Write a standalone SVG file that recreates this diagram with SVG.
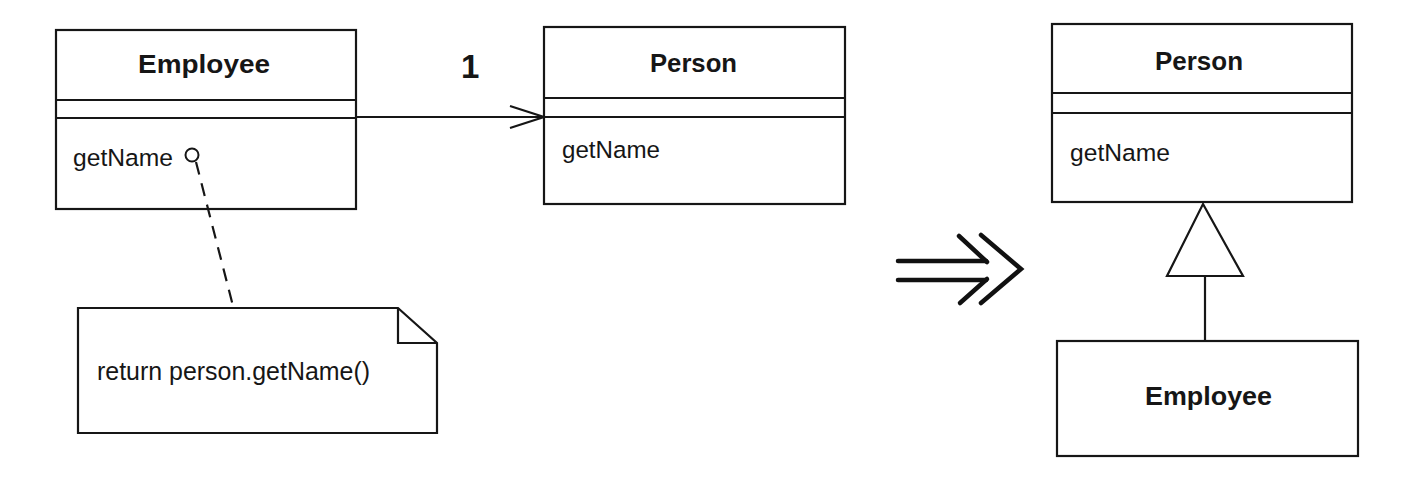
<svg xmlns="http://www.w3.org/2000/svg" width="1412" height="484" viewBox="0 0 1412 484">
  <style>
    .box { fill: #ffffff; stroke: #161616; stroke-width: 2.2; }
    .line { fill: none; stroke: #161616; stroke-width: 2.2; }
    .title { font-family: "Liberation Sans", Arial, sans-serif; font-weight: bold; font-size: 26px; fill: #161616; }
    .op { font-family: "Liberation Sans", Arial, sans-serif; font-size: 24.5px; fill: #161616; }
    .note { font-family: "Liberation Sans", Arial, sans-serif; font-size: 25px; fill: #161616; }
    .mult { font-family: "Liberation Sans", Arial, sans-serif; font-weight: bold; font-size: 33px; fill: #161616; }
  </style>
  <defs>
    <marker id="open-arrow" markerUnits="userSpaceOnUse" markerWidth="40" markerHeight="30" refX="36" refY="13" orient="auto">
      <path d="M2,2 L36,13 L2,24" fill="none" stroke="#161616" stroke-width="2.2"/>
    </marker>
  </defs>
  <rect width="1412" height="484" fill="#ffffff"/>

  <!-- before: Employee delegating to Person -->
  <g id="employee-left">
    <rect class="box" x="56" y="30" width="300" height="179"/>
    <line class="line" x1="56" y1="100" x2="356" y2="100"/>
    <line class="line" x1="56" y1="118" x2="356" y2="118"/>
    <text class="title" x="138" y="73" textLength="132" lengthAdjust="spacingAndGlyphs">Employee</text>
    <text class="op" x="73" y="166" textLength="100" lengthAdjust="spacingAndGlyphs">getName</text>
    <circle cx="192" cy="155" r="6.5" fill="#ffffff" stroke="#161616" stroke-width="2"/>
  </g>

  <g id="person-left">
    <rect class="box" x="544" y="27" width="301" height="177"/>
    <line class="line" x1="544" y1="98" x2="845" y2="98"/>
    <line class="line" x1="544" y1="117" x2="845" y2="117"/>
    <text class="title" x="650" y="72" textLength="87" lengthAdjust="spacingAndGlyphs">Person</text>
    <text class="op" x="562" y="158" textLength="98" lengthAdjust="spacingAndGlyphs">getName</text>
  </g>

  <g id="note">
    <path class="box" d="M78,308 L398,308 L437,343 L437,433 L78,433 Z"/>
    <path class="line" d="M398,308 L398,343 L437,343"/>
    <text class="note" x="97" y="380" textLength="273" lengthAdjust="spacingAndGlyphs">return person.getName()</text>
  </g>

  <!-- after: Employee as a subclass of Person -->
  <g id="person-right">
    <rect class="box" x="1052" y="24" width="300" height="178"/>
    <line class="line" x1="1052" y1="93" x2="1352" y2="93"/>
    <line class="line" x1="1052" y1="113" x2="1352" y2="113"/>
    <text class="title" x="1155" y="70" textLength="88" lengthAdjust="spacingAndGlyphs">Person</text>
    <text class="op" x="1070" y="161" textLength="100" lengthAdjust="spacingAndGlyphs">getName</text>
  </g>

  <g id="employee-right">
    <rect class="box" x="1057" y="341" width="301" height="115"/>
    <text class="title" x="1145" y="405" textLength="127" lengthAdjust="spacingAndGlyphs">Employee</text>
  </g>

  <g id="connectors">
    <!-- association with multiplicity -->
    <line class="line" x1="356" y1="117" x2="544" y2="117" marker-end="url(#open-arrow)"/>
    <text class="mult" x="461" y="78">1</text>
    <!-- note anchor -->
    <line class="line" x1="196" y1="162" x2="233" y2="306" stroke-dasharray="13,9"/>
    <!-- generalization -->
    <line class="line" x1="1205" y1="276" x2="1205" y2="341"/>
    <path class="box" d="M1203,204 L1243,276 L1167,276 Z"/>
  </g>

  <!-- refactoring arrow -->
  <g id="refactor-arrow" fill="none" stroke="#111111" stroke-width="4.5" stroke-linecap="round" stroke-linejoin="miter">
    <line x1="898" y1="261" x2="986" y2="261"/>
    <line x1="898" y1="280" x2="986" y2="280"/>
    <path d="M959,236 L987,262"/>
    <path d="M987,279 L960,303"/>
    <path d="M981,235 L1021,269 L981,303"/>
  </g>
</svg>
